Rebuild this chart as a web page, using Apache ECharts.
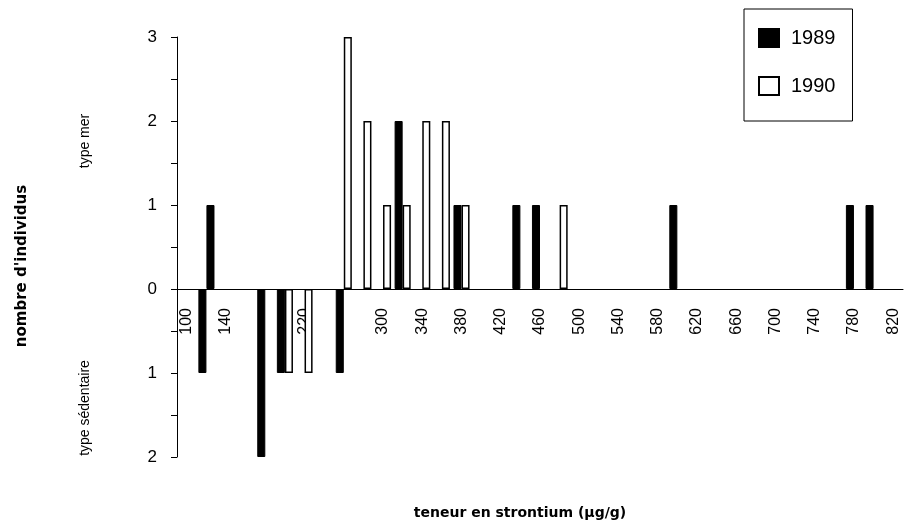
<!DOCTYPE html>
<html>
<head>
<meta charset="utf-8">
<script src="https://cdn.jsdelivr.net/npm/echarts@6/dist/echarts.min.js"></script>
<style>
  html, body { margin: 0; padding: 0; background: #fff; }
  #chart { width: 904px; height: 523px; }
</style>
</head>
<body>
<div id="chart"></div>
<script>
// classes de teneur en strontium (µg/g), pas de 20
const categories = ['100', '120', '140', '160', '180', '200', '220', '240', '260', '280',
  '300', '320', '340', '360', '380', '400', '420', '440', '460', '480',
  '500', '520', '540', '560', '580', '600', '620', '640', '660', '680',
  '700', '720', '740', '760', '780', '800', '820']
const xTickLabels = ['100', '140', '220', '300', '340', '380', '420', '460', '500',
  '540', '580', '620', '660', '700', '740', '780', '820']

// type mer (positif)
const mer1989 = [0, 0, 0, 0, 0, 0, 0, 0, 0, 0, 0, 2, 0, 0, 1, 0, 0, 1, 1, 0,
  0, 0, 0, 0, 0, 1, 0, 0, 0, 0, 0, 0, 0, 0, 1, 1, 0]
// barre 1989 placée à droite dans la classe 120
const mer1989Right = [0, 1, 0, 0, 0, 0, 0, 0, 0, 0, 0, 0, 0, 0, 0, 0, 0, 0, 0, 0,
  0, 0, 0, 0, 0, 0, 0, 0, 0, 0, 0, 0, 0, 0, 0, 0, 0]
const mer1990 = [0, 0, 0, 0, 0, 0, 0, 0, 3, 2, 1, 1, 2, 2, 1, 0, 0, 0, 0, 1,
  0, 0, 0, 0, 0, 0, 0, 0, 0, 0, 0, 0, 0, 0, 0, 0, 0]
// type sédentaire (négatif)
const sed1989 = [0, -1, 0, 0, -2, -1, 0, 0, -1, 0, 0, 0, 0, 0, 0, 0, 0, 0, 0, 0,
  0, 0, 0, 0, 0, 0, 0, 0, 0, 0, 0, 0, 0, 0, 0, 0, 0]
const sed1990 = [0, 0, 0, 0, 0, -1, -1, 0, 0, 0, 0, 0, 0, 0, 0, 0, 0, 0, 0, 0,
  0, 0, 0, 0, 0, 0, 0, 0, 0, 0, 0, 0, 0, 0, 0, 0, 0]

const yMin = -2
const yMax = 3
const gridTop = 37
const gridBottom = 66
// l'axe des x passe par 0 : décalage depuis le bas de la grille
const plotHeight = 523 - gridTop - gridBottom
const zeroOffset = -plotHeight * (0 - yMin) / (yMax - yMin)

const blackBar = { color: '#000', borderColor: '#000', borderWidth: 1 }
const whiteBar = { color: '#fff', borderColor: '#000', borderWidth: 1.5 }
const clean = arr => arr.map(v => (v === 0 ? null : v))

let myChart = echarts.init(document.getElementById('chart'))
myChart.setOption({
  animation: false,
  grid: {
    top: gridTop,
    left: 177,
    right: 1,
    bottom: gridBottom
  },
  legend: {
    left: 744,
    top: 9,
    orient: 'vertical',
    data: ['1989', '1990'],
    icon: 'rect',
    itemWidth: 20,
    itemHeight: 18,
    itemGap: 28,
    padding: [19, 17, 25, 14],
    borderColor: '#000',
    borderWidth: 1,
    textStyle: {
      color: '#000',
      fontSize: 20,
      fontFamily: 'Liberation Sans',
      padding: [0, 0, 0, 7]
    }
  },
  xAxis: {
    type: 'category',
    data: categories,
    offset: zeroOffset,
    axisLine: {
      onZero: false,
      lineStyle: { color: '#000', width: 1 }
    },
    axisTick: {
      interval: 0,
      length: 6,
      lineStyle: { color: '#000' }
    },
    axisLabel: {
      interval: 0,
      rotate: 90,
      margin: 19,
      color: '#000',
      fontSize: 16,
      fontFamily: 'Liberation Sans',
      formatter: v => (xTickLabels.includes(v) ? v : '')
    },
    splitLine: { show: false }
  },
  yAxis: {
    type: 'value',
    min: yMin,
    max: yMax,
    interval: 1,
    axisLine: {
      show: true,
      lineStyle: { color: '#000', width: 1 }
    },
    axisTick: {
      show: true,
      length: 6,
      lineStyle: { color: '#000' }
    },
    minorTick: {
      show: true,
      splitNumber: 2,
      length: 6,
      lineStyle: { color: '#000' }
    },
    axisLabel: {
      margin: 20,
      color: '#000',
      fontSize: 17,
      fontFamily: 'Liberation Sans',
      formatter: v => String(Math.abs(v))
    },
    splitLine: { show: false }
  },
  graphic: [
    {
      type: 'text',
      x: 22, y: 266,
      rotation: Math.PI / 2,
      style: {
        text: "nombre d'individus",
        fontSize: 15, fontWeight: 'bold', fontFamily: 'DejaVu Sans',
        fill: '#000', align: 'center', verticalAlign: 'middle'
      }
    },
    {
      type: 'text',
      x: 85, y: 141,
      rotation: Math.PI / 2,
      style: {
        text: 'type mer',
        fontSize: 14, fontFamily: 'Liberation Sans',
        fill: '#000', align: 'center', verticalAlign: 'middle'
      }
    },
    {
      type: 'text',
      x: 85, y: 408,
      rotation: Math.PI / 2,
      style: {
        text: 'type sédentaire',
        fontSize: 14, fontFamily: 'Liberation Sans',
        fill: '#000', align: 'center', verticalAlign: 'middle'
      }
    },
    {
      type: 'text',
      x: 520, y: 513,
      style: {
        text: 'teneur en strontium (µg/g)',
        fontSize: 14, fontWeight: 'bold', fontFamily: 'DejaVu Sans',
        fill: '#000', align: 'center', verticalAlign: 'middle'
      }
    }
  ],
  series: [
    {
      name: '1989', type: 'bar', stack: 'a',
      barCategoryGap: '18%', barGap: '0%',
      itemStyle: blackBar,
      data: clean(mer1989)
    },
    {
      name: '1989', type: 'bar', stack: 'a',
      itemStyle: blackBar,
      data: clean(sed1989)
    },
    {
      name: '1990', type: 'bar', stack: 'b',
      itemStyle: whiteBar,
      data: clean(mer1990)
    },
    {
      name: '1990', type: 'bar', stack: 'b',
      itemStyle: whiteBar,
      data: clean(sed1990)
    },
    {
      name: '1989', type: 'bar', stack: 'b',
      itemStyle: blackBar,
      data: clean(mer1989Right)
    }
  ]
})
</script>
</body>
</html>
